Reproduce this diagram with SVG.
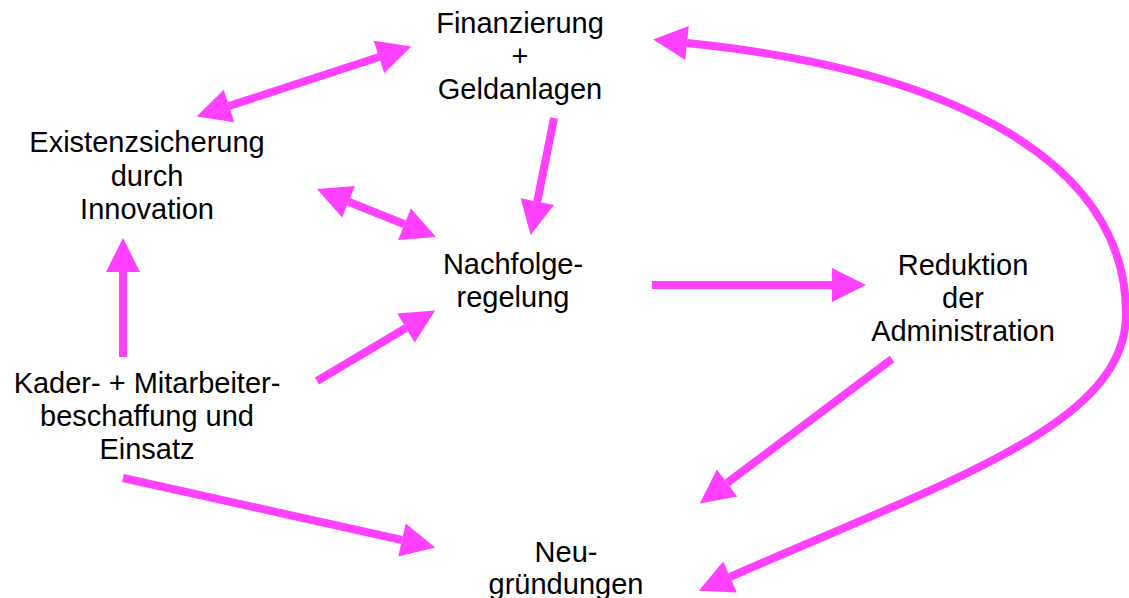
<svg xmlns="http://www.w3.org/2000/svg" width="1129" height="598" viewBox="0 0 1129 598">
<style>
text{font-family:"Liberation Sans",Arial,sans-serif;font-size:29px;fill:#000;text-anchor:middle}
.c{fill:none;stroke:#FF40FF;stroke-width:8;marker-end:url(#ah)}
.d{marker-start:url(#ah)}
</style>
<defs>
<marker id="ah" markerUnits="userSpaceOnUse" markerWidth="35" markerHeight="36" refX="0" refY="17" orient="auto-start-reverse" viewBox="0 0 35 34" overflow="visible">
<path d="M0,0 L34,17 L0,34 z" fill="#FF40FF"/>
</marker>
</defs>
<g id="connectors">
<line class="c d" x1="229" y1="106" x2="379" y2="57"/>
<line class="c d" x1="348.5" y1="201.7" x2="404.5" y2="224.3"/>
<line class="c" x1="554" y1="118" x2="537.3" y2="201.6"/>
<line class="c" x1="123" y1="357" x2="123" y2="272"/>
<line class="c" x1="317" y1="381" x2="406" y2="328"/>
<line class="c" x1="123" y1="478" x2="402" y2="540"/>
<line class="c" x1="652" y1="285" x2="832" y2="285"/>
<line class="c" x1="892" y1="359" x2="727" y2="483"/>
<path class="c d" d="M687,43 C950,70 1127,160 1126,315 C1125,425 950,480 730,577"/>
</g>
<g id="finanzierung"><text x="520" y="33">Finanzierung</text><text x="520" y="66">+</text><text x="520" y="99">Geldanlagen</text></g>
<g id="existenz"><text x="147" y="152">Existenzsicherung</text><text x="147" y="186">durch</text><text x="147" y="219">Innovation</text></g>
<g id="kader"><text x="147" y="393">Kader- + Mitarbeiter-</text><text x="147" y="426">beschaffung und</text><text x="147" y="459">Einsatz</text></g>
<g id="nachfolge"><text x="513" y="274">Nachfolge-</text><text x="513" y="307">regelung</text></g>
<g id="reduktion"><text x="963" y="275">Reduktion</text><text x="963" y="308">der</text><text x="963" y="341">Administration</text></g>
<g id="neugruendungen"><text x="566" y="562">Neu-</text><text x="566" y="594">gründungen</text></g>
</svg>
